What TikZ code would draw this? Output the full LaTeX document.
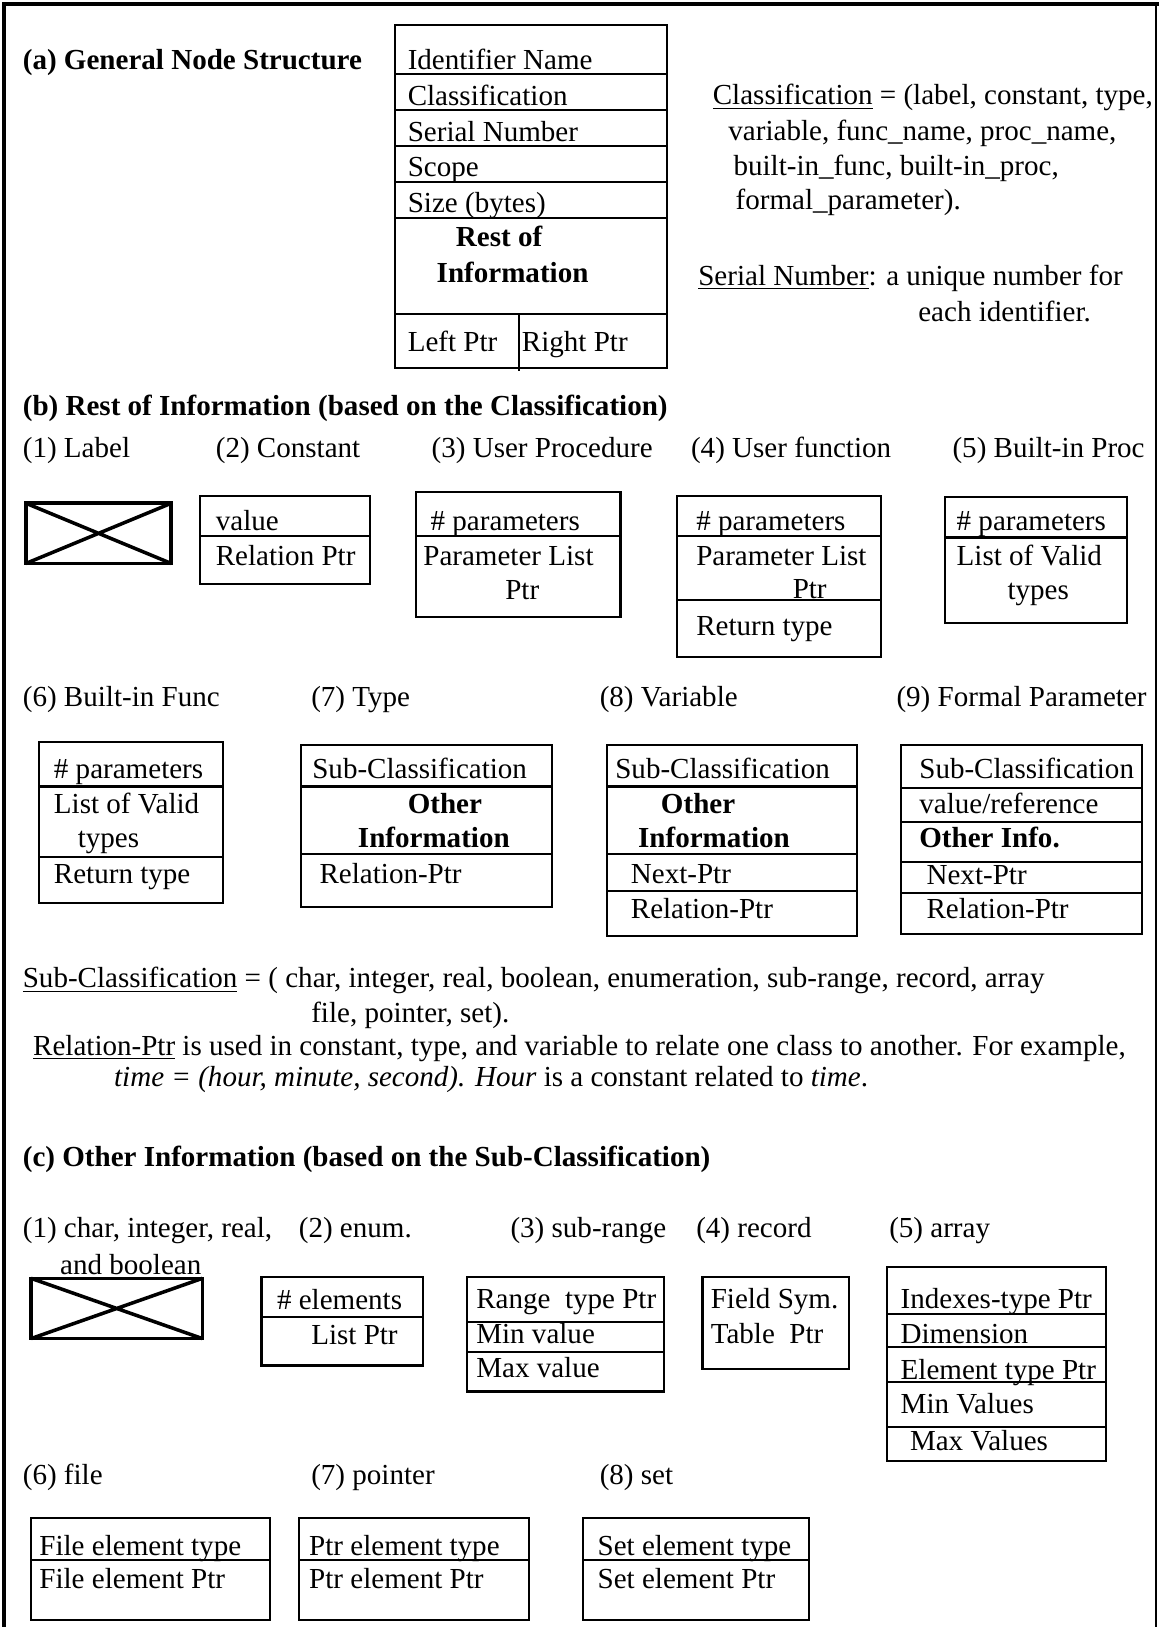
\documentclass[tikz,border=0pt]{standalone}
\usepackage{fontspec}
\setmainfont{Liberation Serif}
\begin{document}
\begin{tikzpicture}[x=0.5pt,y=-0.5pt,
  every node/.style={inner sep=0pt, outer sep=0pt, font=\fontsize{14}{17}\selectfont},
  t/.style={anchor=base west},
  bt/.style={anchor=base west, font=\fontsize{14}{17}\selectfont\bfseries},
  bc/.style={anchor=base, font=\fontsize{14}{17}\selectfont\bfseries},
  bx/.style={line width=1pt},
  xbox/.style={line width=1.7pt},
  frame/.style={line width=2pt}]
\useasboundingbox (0,0) rectangle (1117,1568);
% frame
\draw[frame] (4,1568) -- (4,4) -- (1117,4);
\draw[line width=1pt] (1114,4) -- (1114,1568);

% ---------- (a) ----------
\node[bt] (ta) at (22,67) {(a) General Node Structure};
\draw[bx] (381,24) rectangle (643,355);
\foreach \yy in {71,106,141,175,210,303} \draw[bx] (381,\yy) -- (643,\yy);
\draw[bx] (500,303) -- (500,358);
\node[t] (a1) at (393,67) {Identifier Name};
\node[t] (a2) at (393,102) {Classification};
\node[t] (a3) at (393,136) {Serial Number};
\node[t] (a4) at (393,170) {Scope};
\node[t] (a5) at (393,205) {Size (bytes)};
\node[bc] (a6) at (481,238) {Rest of};
\node[bc] (a7) at (494,272) {Information};
\node[t] (a8) at (393,339) {Left Ptr};
\node[t] (a9) at (503,339) {Right Ptr};

\node[t] (c1) at (687,101) {\underline{Classification} = (label, constant, type,};
\node[t] (c2) at (702,135) {variable, func\_name, proc\_name,};
\node[t] (c3) at (707,169) {built-in\_func, built-in\_proc,};
\node[t] (c4) at (709,202) {formal\_parameter).};
\node[t] (s1) at (673,275) {\underline{Serial Number}: a unique number for};
\node[t] (s2) at (885,310) {each identifier.};

% ---------- (b) ----------
\node[bt] (tb) at (22,400) {(b) Rest of Information (based on the Classification)};
\node[t] (l1) at (22,441) {(1) Label};
\node[t] (l2) at (208,441) {(2) Constant};
\node[t] (l3) at (416,441) {(3) User Procedure};
\node[t] (l4) at (666,441) {(4) User function};
\node[t] (l5) at (918,441) {(5) Built-in Proc};

% label (crossed)
\draw[xbox] (25,485) rectangle (165,543);
\draw[xbox] (25,485) -- (165,543) (25,543) -- (165,485);

% constant
\draw[bx] (193,478) rectangle (357,563);
\draw[bx] (193,517) -- (357,517);
\node[t] (k1) at (208,511) {value};
\node[t] (k2) at (208,545) {Relation Ptr};

% user procedure
\draw[bx] (401,474) rectangle (598,595);
\draw[bx] (401,517) -- (598,517);
\node[t] (u1) at (415,511) {\# parameters};
\node[t] (u2) at (408,545) {Parameter List};
\node[t] (u3) at (487,578) {Ptr};

% user function
\draw[bx] (652,478) rectangle (849,633);
\draw[bx] (652,517) -- (849,517);
\draw[bx] (652,578) -- (849,578);
\node[t] (f1) at (671,511) {\# parameters};
\node[t] (f2) at (671,545) {Parameter List};
\node[t] (f3) at (764,577) {Ptr};
\node[t] (f4) at (671,612) {Return type};

% built-in proc
\draw[bx] (911,479) rectangle (1086,600);
\draw[bx] (911,518) -- (1086,518);
\node[t] (p1) at (922,511) {\# parameters};
\node[t] (p2) at (922,545) {List of Valid};
\node[t] (p3) at (971,578) {types};

\node[t] (l6) at (22,681) {(6) Built-in Func};
\node[t] (l7) at (300,681) {(7) Type};
\node[t] (l8) at (578,681) {(8) Variable};
\node[t] (l9) at (864,681) {(9) Formal Parameter};

% built-in func
\draw[bx] (38,715) rectangle (215,870);
\draw[bx] (38,758) -- (215,758);
\draw[bx] (38,826) -- (215,826);
\node[t] (g1) at (52,750) {\# parameters};
\node[t] (g2) at (52,784) {List of Valid};
\node[t] (g3) at (75,817) {types};
\node[t] (g4) at (52,851) {Return type};

% type
\draw[bx] (290,718) rectangle (532,874);
\draw[bx] (290,758) -- (532,758);
\draw[bx] (290,823) -- (532,823);
\node[t] (y1) at (301,750) {Sub-Classification};
\node[bt] (y2) at (393,784) {Other};
\node[bt] (y3) at (345,817) {Information};
\node[t] (y4) at (308,851) {Relation-Ptr};

% variable
\draw[bx] (585,718) rectangle (826,902);
\foreach \yy in {758,823,859} \draw[bx] (585,\yy) -- (826,\yy);
\node[t] (v1) at (593,750) {Sub-Classification};
\node[bt] (v2) at (637,784) {Other};
\node[bt] (v3) at (615,817) {Information};
\node[t] (v4) at (608,851) {Next-Ptr};
\node[t] (v5) at (608,885) {Relation-Ptr};

% formal parameter
\draw[bx] (868,718) rectangle (1101,900);
\foreach \yy in {759,792,831,861} \draw[bx] (868,\yy) -- (1101,\yy);
\node[t] (w1) at (886,750) {Sub-Classification};
\node[t] (w2) at (886,784) {value/reference};
\node[bt] (w3) at (886,817) {Other Info.};
\node[t] (w4) at (893,852) {Next-Ptr};
\node[t] (w5) at (893,885) {Relation-Ptr};

% paragraph
\node[t] (q1) at (22,952) {\underline{Sub-Classification} = ( char, integer, real, boolean, enumeration, sub-range, record, array};
\node[t] (q2) at (300,985) {file, pointer, set).};
\node[t] (q3) at (32,1017) {\underline{Relation-Ptr} is used in constant, type, and variable to relate one class to another. For example,};
\node[t] (q4) at (110,1047) {\textit{time = (hour, minute, second). Hour} is a constant related to \textit{time}.};

% ---------- (c) ----------
\node[bt] (tc) at (22,1124) {(c) Other Information (based on the Sub-Classification)};
\node[t] (m1) at (22,1193) {(1) char, integer, real,};
\node[t] (m2) at (288,1193) {(2) enum.};
\node[t] (m3) at (492,1193) {(3) sub-range};
\node[t] (m4) at (671,1193) {(4) record};
\node[t] (m5) at (857,1193) {(5) array};
\node[t] (m1b) at (58,1228) {and boolean};

% char... crossed
\draw[xbox] (30,1232) rectangle (195,1290);
\draw[xbox] (30,1232) -- (195,1290) (30,1290) -- (195,1232);

% enum
\draw[bx] (252,1231) rectangle (408,1316);
\draw[bx] (252,1269) -- (408,1269);
\node[t] (e1) at (267,1262) {\# elements};
\node[t] (e2) at (300,1296) {List Ptr};

% sub-range
\draw[bx] (450,1231) rectangle (640,1341);
\draw[bx] (450,1274) -- (640,1274);
\draw[bx] (450,1303) -- (640,1303);
\node[t] (r1) at (459,1261) {Range\ \ type Ptr};
\node[t] (r2) at (459,1295) {Min value};
\node[t] (r3) at (459,1328) {Max value};

% record
\draw[bx] (677,1231) rectangle (818,1319);
\node[t] (d1) at (685,1261) {Field Sym.};
\node[t] (d2) at (685,1295) {Table\ \ Ptr};

% array
\draw[bx] (855,1221) rectangle (1066,1408);
\foreach \yy in {1266,1298,1332,1375} \draw[bx] (855,\yy) -- (1066,\yy);
\node[t] (h1) at (868,1261) {Indexes-type Ptr};
\node[t] (h2) at (868,1295) {Dimension};
\node[t] (h3) at (868,1329) {Element type Ptr};
\node[t] (h4) at (868,1362) {Min Values};
\node[t] (h5) at (877,1398) {Max Values};

\node[t] (n6) at (22,1431) {(6) file};
\node[t] (n7) at (300,1431) {(7) pointer};
\node[t] (n8) at (578,1431) {(8) set};

% file
\draw[bx] (30,1463) rectangle (260,1561);
\draw[bx] (30,1503) -- (260,1503);
\node[t] (i1) at (38,1499) {File element type};
\node[t] (i2) at (38,1531) {File element Ptr};

% pointer
\draw[bx] (288,1463) rectangle (510,1561);
\draw[bx] (288,1503) -- (510,1503);
\node[t] (j1) at (298,1499) {Ptr element type};
\node[t] (j2) at (298,1531) {Ptr element Ptr};

% set
\draw[bx] (562,1463) rectangle (780,1561);
\draw[bx] (562,1503) -- (780,1503);
\node[t] (o1) at (576,1499) {Set element type};
\node[t] (o2) at (576,1531) {Set element Ptr};
\end{tikzpicture}
\end{document}
